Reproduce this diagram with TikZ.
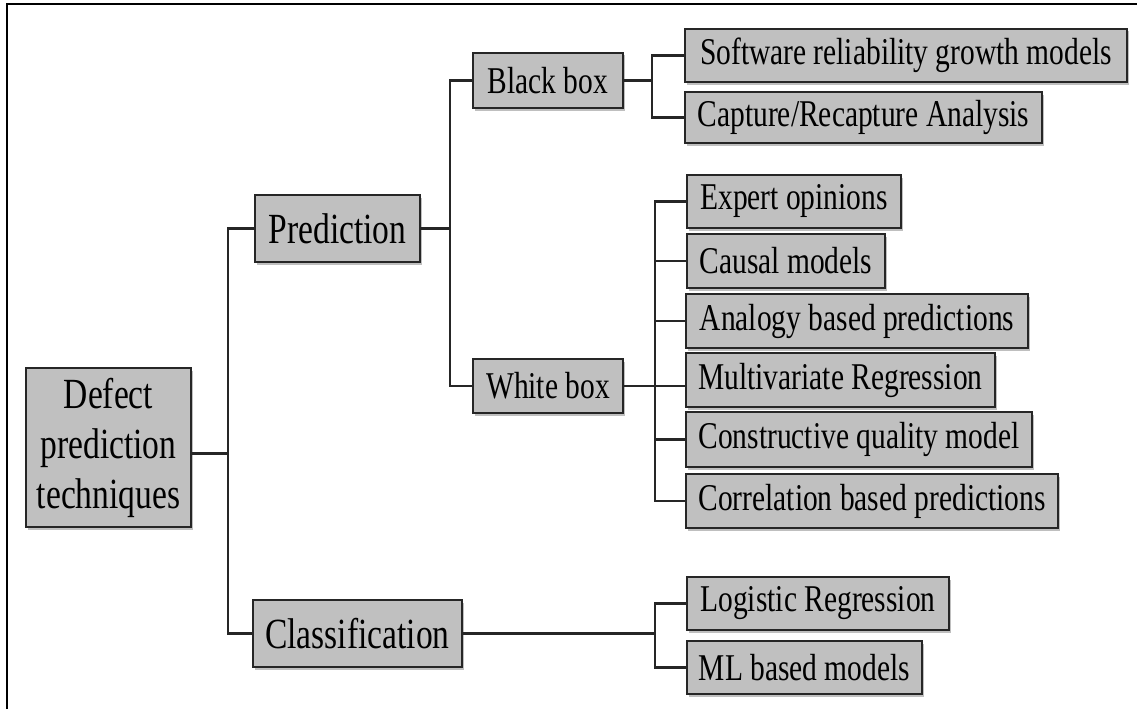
\documentclass[tikz,border=0pt]{standalone}
\usepackage{fontspec}
\setmainfont{Liberation Serif}[FakeStretch=0.78]
\usetikzlibrary{shadows}
\definecolor{boxgray}{HTML}{C0C0C0}
\definecolor{edge}{HTML}{262626}

\begin{document}
\begin{tikzpicture}[x=1pt,y=-1pt,
  box/.style={draw=edge, line width=2.2pt, fill=boxgray, inner sep=0pt,
    font=\fontsize{37.8}{40}\selectfont,
    drop shadow={shadow xshift=2pt, shadow yshift=-2.5pt, opacity=0.25, fill=black}},
  big/.style={font=\fontsize{43}{50}\selectfont},
  link/.style={draw=edge, line width=2.2pt}]

\useasboundingbox (0,0) rectangle (1137,709);

% frame
\draw[line width=2.4pt, black] (7,709) -- (7,4) -- (1137,4);

% root and first level
\node[box, big, align=center, minimum width=165pt, minimum height=159pt] (defect) at (108.5,447.5) {Defect\\prediction\\techniques};
\node[box, big, minimum width=165pt, minimum height=67pt] (pred) at (337.5,228.5) {Prediction};
\node[box, big, minimum width=209pt, minimum height=67pt] (cls) at (357.5,633.5) {Classification};

% second level
\node[box, minimum width=150pt, minimum height=55pt] (black) at (548,80.5) {Black box};
\node[box, minimum width=150pt, minimum height=54pt] (white) at (548,386) {White box};

% leaves
\node[box, minimum width=442pt, minimum height=53pt] (sw) at (906,55.5) {Software reliability growth models};
\node[box, minimum width=357pt, minimum height=51pt] (cap) at (863.5,117.5) {Capture/Recapture Analysis};

\node[box, minimum width=214pt, minimum height=53pt] (exp) at (794,201.5) {Expert opinions};
\node[box, minimum width=198pt, minimum height=54pt] (cau) at (786,261) {Causal models};
\node[box, minimum width=342pt, minimum height=54pt] (ana) at (857,321) {Analogy based predictions};
\node[box, minimum width=309pt, minimum height=54pt] (mul) at (840.5,380) {Multivariate Regression};
\node[box, minimum width=346pt, minimum height=55pt] (con) at (859,439.5) {Constructive quality model};
\node[box, minimum width=372pt, minimum height=54pt] (cor) at (872,501) {Correlation based predictions};

\node[box, minimum width=262pt, minimum height=53pt] (log) at (818,603.5) {Logistic Regression};
\node[box, minimum width=235pt, minimum height=53pt] (ml) at (804.5,667.5) {ML based models};

% trunk positions
\coordinate (t1) at (228,0);
\coordinate (t2) at (450,0);
\coordinate (t3) at (652,0);
\coordinate (t4) at (655,0);
\coordinate (t5) at (655,0);

% connectors
\draw[link] ([yshift=-6pt]defect.east) -- ([yshift=-6pt]defect.east -| t1);
\draw[link] (pred.west) -- (pred.west -| t1) -- (cls.west -| t1) -- (cls.west);

\draw[link] (pred.east) -- (pred.east -| t2);
\draw[link] (black.west) -- (black.west -| t2) -- (white.west -| t2) -- (white.west);

\draw[link] (black.east) -- (black.east -| t3);
\draw[link] (sw.west) -- (sw.west -| t3) -- (cap.west -| t3) -- (cap.west);

\draw[link] (white.east) -- (white.east -| mul.west);
\draw[link] (exp.west) -- (exp.west -| t4) -- (cor.west -| t4) -- (cor.west);
\draw[link] (cau.west) -- (cau.west -| t4);
\draw[link] (ana.west) -- (ana.west -| t4);
\draw[link] (con.west) -- (con.west -| t4);

\draw[link] (cls.east) -- (cls.east -| t5);
\draw[link] (log.west) -- (log.west -| t5) -- (ml.west -| t5) -- (ml.west);
\end{tikzpicture}
\end{document}
